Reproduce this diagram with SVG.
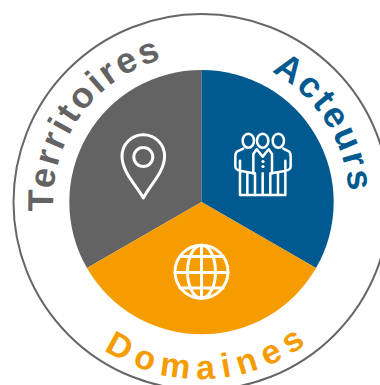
<svg xmlns="http://www.w3.org/2000/svg" width="380" height="385" viewBox="0 0 380 385">
<style>
.lab{font-family:"Liberation Sans",Arial,sans-serif;font-weight:bold}
.ic{fill:none;stroke:#fff;stroke-linecap:round;stroke-linejoin:round}
</style>
<defs>
<path id="top" d="M72.8 276A148 148 0 1 1 329.2 276"/>
<path id="bot" d="M24 202A177 177 0 0 0 378 202"/>
</defs>
<rect width="380" height="385" fill="#fff"/>
<circle id="ring" cx="201.5" cy="202" r="188" fill="none" stroke="#666" stroke-width="2"/>
<g id="territoires">
<path d="M201.5 202L87 268A132 132 0 0 1 201.5 70Z" fill="#636363"/>
<path class="ic" stroke-width="3" d="M143.3 198C136 185 122 172 122 156A21 21 0 0 1 164.6 156C164.6 172 150 185 143.3 198Z"/>
<circle class="ic" stroke-width="3" cx="143.3" cy="157" r="9.5"/>
<text class="lab" font-size="36" fill="#636363" letter-spacing="2.6"><textPath href="#top" startOffset="68">Territoires</textPath></text>
</g>
<g id="acteurs">
<path d="M201.5 202V70A132 132 0 0 1 316 268Z" fill="#005a8f"/>
<g class="ic" stroke-width="7.5" transform="translate(210 110) scale(.3333)">
<ellipse cx="115" cy="92" rx="17" ry="21"/>
<ellipse cx="158" cy="92" rx="17" ry="21"/>
<ellipse cx="205" cy="92" rx="17" ry="21"/>
<path d="M100 116L82 124Q76 128 76 140V170Q76 178 90 182L130 190M90 152V255H112V190M112 255H135V190"/>
<path d="M220 116L236 124Q242 128 242 140V170Q242 178 228 182L185 190M226 152V255H204V190M204 255H181V190"/>
<path d="M135 255H181M158 190V255M130 132L140 118L158 140L176 118L186 132M130 132V190M186 132V190"/>
</g>
<circle cx="263" cy="161.5" r="1.6" fill="#fff"/><circle cx="263" cy="166.5" r="1.6" fill="#fff"/>
<text class="lab" font-size="36" fill="#005a8f" letter-spacing="2.3"><textPath href="#top" startOffset="383">Acteurs</textPath></text>
</g>
<g id="domaines">
<path d="M201.5 202L316 268A132 132 0 0 1 87 268Z" fill="#f59c00"/>
<g class="ic" stroke-width="3">
<circle cx="201.5" cy="271.7" r="26.5"/>
<ellipse cx="201.5" cy="271.7" rx="14" ry="26.5"/>
<path d="M201.5 245.2V298.2M175 272.5H228M180 256.5H223M180 288H223"/>
</g>
<text class="lab" font-size="34" fill="#f59c00" letter-spacing="7.6"><textPath href="#bot" startOffset="175">Domaines</textPath></text>
</g>
</svg>
